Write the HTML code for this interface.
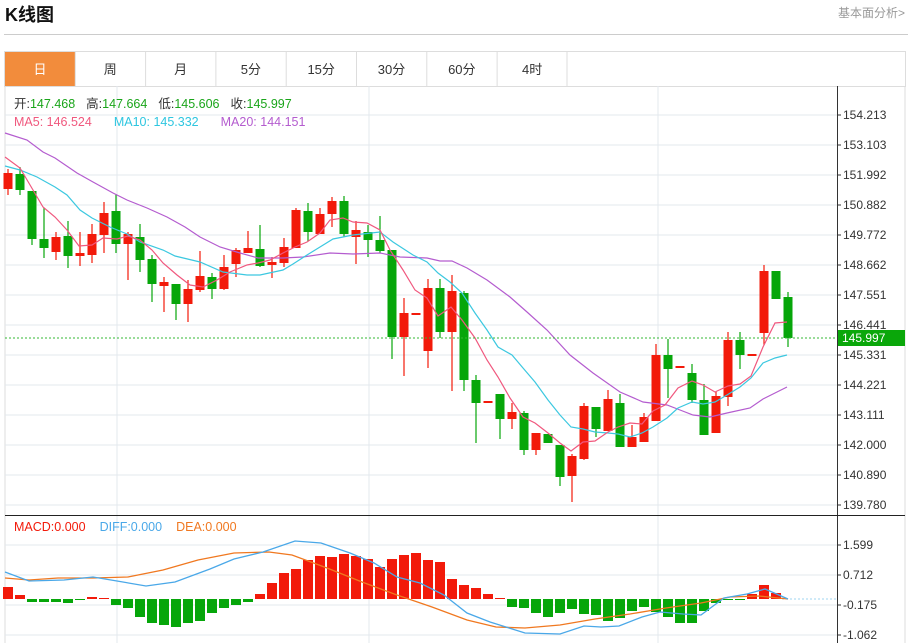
<!DOCTYPE html>
<html><head><meta charset="utf-8">
<style>
body{margin:0;background:#fff;width:911px;height:643px;overflow:hidden;font-family:"Liberation Sans","Noto Sans CJK SC",sans-serif;}
svg{position:absolute;left:0;top:0}
</style></head><body>
<svg id="s" width="911" height="643" xmlns="http://www.w3.org/2000/svg" font-family="Liberation Sans, Noto Sans CJK SC, sans-serif">
<text x="5" y="21" font-size="18" font-weight="bold" fill="#111">K线图</text>
<text x="905" y="17" font-size="12" fill="#999" text-anchor="end">基本面分析&gt;</text>
<line x1="4" y1="34.5" x2="908" y2="34.5" stroke="#ccc"/>
<rect x="4.5" y="51.5" width="901" height="35" fill="#fff" stroke="#ddd"/>
<rect x="5" y="52" width="70" height="34" fill="#f28c3c"/>
<g id="tabs" font-size="13" fill="#333" text-anchor="middle"></g>
<g id="g"></g>
</svg>
<script>
const s=document.getElementById('g');let h='';
const tabs=['日','周','月','5分','15分','30分','60分','4时'];
let t='';tabs.forEach((n,i)=>{const x0=5+i*70.3;if(i>0)t+=`<line x1="${x0}" y1="52" x2="${x0}" y2="86" stroke="#ddd"/>`;t+=`<text x="${x0+35}" y="74" fill="${i==0?'#fff':'#333'}">${n}</text>`});
t+=`<line x1="567" y1="52" x2="567" y2="86" stroke="#ddd"/>`;
document.getElementById('tabs').innerHTML=t;
h+=`<line x1="5" y1="86" x2="5" y2="643" stroke="#ddd"/>`;
h+=`<line x1="905" y1="86" x2="905" y2="643" stroke="#ddd"/>`;
const pl=['154.213','153.103','151.992','150.882','149.772','148.662','147.551','146.441','145.331','144.221','143.111','142.000','140.890','139.780'];
pl.forEach((l,i)=>{const y=115+i*30;h+=`<line x1="5" y1="${y}" x2="837" y2="${y}" stroke="#e3e8ee"/><line x1="837" y1="${y}" x2="841" y2="${y}" stroke="#333"/><text x="843" y="${y+4}" font-size="12" fill="#333">${l}</text>`});
[117,369,658].forEach(x=>{h+=`<line x1="${x}" y1="86" x2="${x}" y2="643" stroke="#e3e8ee"/>`});
[545,575,605,635].forEach((y,i)=>{h+=`<line x1="5" y1="${y}" x2="837" y2="${y}" stroke="#e3e8ee"/><line x1="837" y1="${y}" x2="841" y2="${y}" stroke="#333"/><text x="843" y="${y+4}" font-size="12" fill="#333">${['1.599','0.712','-0.175','-1.062'][i]}</text>`});
h+=`<line x1="837.5" y1="86" x2="837.5" y2="643" stroke="#333"/>`;
h+=`<line x1="5" y1="515.5" x2="905" y2="515.5" stroke="#222"/>`;
const R='#f21a0a',G='#06a60a';
const C=[['r',173,189,169,195],['g',174,190,167,195],['g',191,239,191,245],['g',239,248,208,258],['r',237,252,232,260],['g',236,256,221,268],['r',253,256,232,266],['r',234,255,224,263],['r',213,235,202,253],['g',211,244,194,253],['r',234,244,232,280],['g',237,260,224,272],['g',259,284,255,302],['r',282,286,277,312],['g',284,304,284,320],['r',289,304,280,322],['r',276,290,251,292],['g',277,289,273,299],['r',267,289,255,290],['r',250,264,248,277],['r',248,253,231,253],['g',249,266,225,267],['r',262,265,257,278],['r',247,263,238,267],['r',210,248,208,248],['g',211,232,203,241],['r',214,234,208,234],['r',201,214,197,227],['g',201,234,196,237],['r',230,237,221,264],['g',232,240,225,257],['g',240,251,216,253],['g',250,337,250,359],['r',313,337,298,376],['r',313,315,313,315],['r',288,351,279,368],['g',288,332,279,338],['r',291,332,275,391],['g',293,380,291,391],['g',380,403,375,443],['r',401,403,401,403],['g',394,419,394,439],['r',412,419,403,429],['g',413,450,411,455],['r',433,450,433,455],['g',434,443,434,443],['g',445,477,445,486],['r',456,476,454,502],['r',406,459,403,460],['g',407,429,407,437],['r',399,431,390,431],['g',403,447,394,447],['r',437,447,425,447],['r',417,442,413,442],['r',355,421,344,421],['g',355,369,339,398],['r',366,368,366,368],['g',373,400,364,403],['g',400,435,384,435],['r',396,433,392,433],['r',340,397,332,406],['g',340,355,332,369],['r',354,356,354,356],['r',271,333,265,345],['g',271,299,271,299],['g',297,338,292,347]];
C.forEach((c,i)=>{const x=8+12*i,col=c[0]=='r'?R:G;h+=`<line x1="${x}" y1="${c[3]}" x2="${x}" y2="${c[4]}" stroke="${col}" stroke-width="1.2"/><rect x="${x-4.5}" y="${c[1]}" width="9" height="${Math.max(c[2]-c[1],1.5)}" fill="${col}"/>`});
const pts=a=>a.map(p=>p.join(',')).join(' ');
const ma5=[[5,157],[20,168],[33,190],[43,207],[55,217],[67,230],[79,246],[92,245],[103,238],[117,239],[128,236],[140,240],[152,250],[163,263],[177,275],[190,285],[203,287],[217,280],[230,272],[247,265],[258,263],[270,260],[283,253],[295,247],[307,242],[320,233],[330,220],[343,218],[353,222],[367,223],[380,230],[390,250],[403,270],[415,290],[427,298],[438,316],[451,307],[462,320],[475,338],[487,360],[498,377],[510,398],[523,417],[535,423],[548,433],[560,443],[571,451],[583,442],[595,441],[608,432],[618,427],[630,423],[642,424],[653,411],[665,405],[678,388],[692,381],[703,385],[715,392],[728,386],[740,384],[751,376],[763,347],[775,323],[787,322]];
const ma10=[[5,166],[20,170],[37,177],[55,187],[67,195],[80,210],[92,218],[110,227],[127,234],[140,242],[163,250],[175,256],[200,262],[223,272],[247,275],[260,275],[283,270],[293,264],[307,255],[320,247],[333,239],[353,235],[380,232],[393,242],[413,255],[427,262],[438,273],[450,282],[462,293],[475,313],[487,330],[498,347],[512,355],[523,368],[535,382],[548,400],[560,415],[571,427],[583,429],[595,432],[608,433],[618,434],[630,437],[642,433],[653,427],[667,418],[678,408],[692,402],[703,404],[715,402],[727,395],[740,387],[751,378],[763,363],[775,358],[787,355]];
const ma20=[[5,133],[27,140],[43,152],[55,158],[77,173],[93,182],[113,193],[127,200],[147,208],[167,217],[185,227],[200,237],[220,247],[240,253],[258,258],[283,258],[303,257],[330,253],[353,254],[380,253],[400,257],[427,258],[440,261],[452,261],[467,268],[487,280],[510,297],[527,312],[547,330],[570,355],[593,373],[620,392],[643,402],[667,405],[680,410],[693,415],[710,417],[727,413],[750,408],[763,399],[775,393],[787,387]];
h+=`<polyline points="${pts(ma20)}" fill="none" stroke="#b45ccf" stroke-width="1.2"/>`;
h+=`<polyline points="${pts(ma10)}" fill="none" stroke="#3cc8e0" stroke-width="1.2"/>`;
h+=`<polyline points="${pts(ma5)}" fill="none" stroke="#f0587e" stroke-width="1.2"/>`;
h+=`<line x1="5" y1="338" x2="837" y2="338" stroke="#33b833" stroke-dasharray="2,2"/>`;
h+=`<rect x="838" y="330" width="67" height="16" fill="#0aa70a"/><text x="842" y="342" font-size="12" fill="#fff">145.997</text>`;
h+=`<text x="14" y="108" font-size="12.5" fill="#333">开:<tspan fill="#1aa51a">147.468</tspan><tspan dx="11">高:</tspan><tspan fill="#1aa51a">147.664</tspan><tspan dx="11">低:</tspan><tspan fill="#1aa51a">145.606</tspan><tspan dx="11">收:</tspan><tspan fill="#1aa51a">145.997</tspan></text>`;
h+=`<text x="14" y="126" font-size="12.5"><tspan fill="#f0587e">MA5: 146.524</tspan><tspan dx="22" fill="#2ec6e0">MA10: 145.332</tspan><tspan dx="22" fill="#b45ccf">MA20: 144.151</tspan></text>`;
h+=`<text x="14" y="531" font-size="12.5"><tspan fill="#f21a0a">MACD:0.000</tspan><tspan dx="14" fill="#4aa8e8">DIFF:0.000</tspan><tspan dx="14" fill="#f07820">DEA:0.000</tspan></text>`;
const M=[587,595,602,602,602,603,600,597,598,605,608,617,623,625,627,623,621,613,608,605,602,594,583,573,569,560,556,557,554,556,559,567,559,555,553,560,562,579,585,588,594,598,607,608,613,617,613,609,614,615,621,618,611,607,612,617,623,623,611,603,600,599.5,594,585,593];
M.forEach((y,i)=>{const x=8+12*i,col=y<599?R:G;h+=`<rect x="${x-5}" y="${Math.min(y,599)}" width="10" height="${Math.max(Math.abs(y-599),1)}" fill="${col}"/>`});
h+=`<line x1="782" y1="599" x2="837" y2="599" stroke="#9fd6f0" stroke-dasharray="2,2"/>`;
const dif=[[5,572],[29,581],[64,580],[93,577],[117,581],[146,586],[175,582],[210,569],[234,559],[263,552],[295,541],[321,543],[350,553],[374,563],[397,577],[420,583],[444,595],[467,613],[490,622],[525,633],[560,634],[584,626],[601,627],[619,626],[642,617],[660,612],[683,614],[701,615],[724,598],[747,594],[765,589],[788,599]];
const dea=[[5,578],[29,580],[58,578],[93,578],[128,577],[163,570],[198,560],[234,553],[269,552],[292,555],[327,568],[362,582],[397,595],[432,607],[467,620],[496,627],[525,628],[560,625],[595,619],[630,614],[666,608],[701,603],[730,597],[759,596],[788,599]];
h+=`<polyline points="${pts(dea)}" fill="none" stroke="#f07820" stroke-width="1.3"/>`;
h+=`<polyline points="${pts(dif)}" fill="none" stroke="#4aa8e8" stroke-width="1.3"/>`;
s.innerHTML=h;
</script>
</body></html>
